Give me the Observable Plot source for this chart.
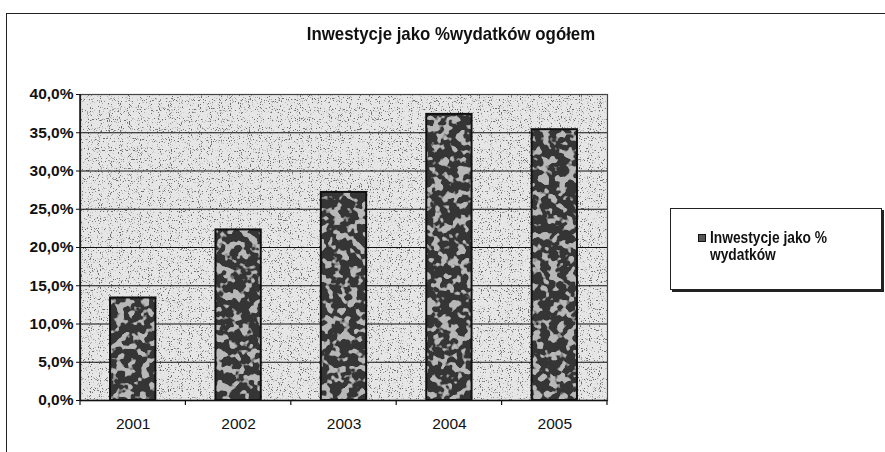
<!DOCTYPE html>
<html><head><meta charset="utf-8">
<script src="https://cdn.jsdelivr.net/npm/d3@7"></script>
<script src="https://cdn.jsdelivr.net/npm/@observablehq/plot@0.6"></script>
<style>
body{margin:0;background:#fff;}
#wrap{position:relative;width:885px;height:452px;overflow:hidden;font-family:"Liberation Sans",Arial,sans-serif;color:#111;}
#border{position:absolute;left:6px;top:13px;width:900px;height:460px;border-left:1.5px solid #222;border-top:1.5px solid #222;}
#title{position:absolute;left:151px;top:24px;width:600px;text-align:center;font-weight:bold;font-size:19px;line-height:19px;white-space:nowrap;transform:scaleX(0.887);transform-origin:50% 50%;}
#chart{position:absolute;left:0;top:0;}
#legend{position:absolute;left:670px;top:208px;width:210px;height:80px;border:1px solid #222;box-shadow:2px 2px 0 #222;background:#fff;}
#legend .sw{position:absolute;left:27px;top:25px;width:6px;height:6px;background:#555;border:1px solid #111;}
#legend .tx{position:absolute;left:39px;top:20px;font-weight:bold;font-size:16px;line-height:17px;white-space:nowrap;transform:scaleX(0.86);transform-origin:0 0;}
</style></head>
<body>
<div id="wrap">
  <div id="border"></div>
  <div id="chart"></div>
  <div id="title">Inwestycje jako %wydatków ogółem</div>
  <div id="legend"><div class="sw"></div><div class="tx">Inwestycje jako %<br>wydatków</div></div>
</div>
<script>
const years = ["2001", "2002", "2003", "2004", "2005"];
const values = [13.4, 22.3, 27.2, 37.4, 35.4];
const yTicks = [0, 5, 10, 15, 20, 25, 30, 35, 40];
const seriesName = "Inwestycje jako % wydatków";

const data = years.map((year, i) => ({year, value: values[i]}));
const fmt = d => d.toFixed(1).replace(".", ",") + "%";

const plot = Plot.plot({
  width: 885, height: 452,
  marginLeft: 80, marginRight: 278, marginTop: 94, marginBottom: 52,
  style: {fontFamily: '"Liberation Sans",Arial,sans-serif', fontSize: "15.5px", color: "#111", background: "transparent", overflow: "visible"},
  x: {domain: years, paddingInner: 0.57, paddingOuter: 0.285, round: false, label: null},
  y: {domain: [0, 40], label: null},
  marks: [
    Plot.frame({fill: "#e6e6e6", stroke: "none"}),
    Plot.ruleY(yTicks, {stroke: "#111", strokeWidth: 1.2}),
    Plot.barY(data, {x: "year", y: "value", fill: "#363636", title: d => seriesName}),
    Plot.barY(data, {x: "year", y: "value", fill: "none", stroke: "#111", strokeWidth: 2}),
    Plot.frame({stroke: "#444", strokeWidth: 1.2}),
    Plot.ruleY([0], {stroke: "#111", strokeWidth: 1.5}),
    Plot.axisY({ticks: yTicks, tickSize: 4, tickPadding: 3, tickFormat: fmt, fontWeight: "bold", fontSize: 15.5, label: null}),
    Plot.axisX({tickSize: 0, tickPadding: 17, fontSize: 15.5, label: null})
  ]
});
document.getElementById("chart").appendChild(plot);

// band-edge tick marks on the category axis, from the plot's x scale
const xs = plot.scale("x");
const ys = plot.scale("y");
const svg = d3.select(plot);
const y0 = ys.apply(0);
svg.append("g").selectAll("line")
  .data(d3.range(years.length + 1))
  .join("line")
  .attr("x1", i => xs.range[0] + i * xs.step)
  .attr("x2", i => xs.range[0] + i * xs.step)
  .attr("y1", y0).attr("y2", y0 + 5)
  .attr("stroke", "#111").attr("stroke-width", 1.2);
svg.append("line")
  .attr("x1", xs.range[0]).attr("x2", xs.range[0])
  .attr("y1", ys.apply(40)).attr("y2", y0)
  .attr("stroke", "#111").attr("stroke-width", 1.5);

// textures (speckled plot area, mottled bars)
const defs = svg.insert("defs", ":first-child");
defs.html(`
<filter id="speckle" x="0" y="0" width="1" height="1">
  <feTurbulence type="fractalNoise" baseFrequency="0.9" numOctaves="1" seed="4" result="n"/>
  <feColorMatrix in="n" type="matrix" values="0 0 0 0 0.15  0 0 0 0 0.15  0 0 0 0 0.15  10 0 0 0 -5.9" result="dots"/>
  <feComposite in="dots" in2="SourceGraphic" operator="in" result="d2"/>
  <feMerge><feMergeNode in="SourceGraphic"/><feMergeNode in="d2"/></feMerge>
</filter>
<filter id="camo" x="0" y="0" width="1" height="1">
  <feTurbulence type="fractalNoise" baseFrequency="0.12" numOctaves="2" seed="7" result="t"/>
  <feColorMatrix in="t" type="matrix" values="0 0 0 0 0.48  0 0 0 0 0.48  0 0 0 0 0.48  12 0 0 0 -6.2" result="p"/>
  <feComposite in="p" in2="SourceGraphic" operator="in" result="p2"/>
  <feMerge><feMergeNode in="SourceGraphic"/><feMergeNode in="p2"/></feMerge>
</filter>`);
svg.select('[aria-label="frame"]').attr("filter", "url(#speckle)");
svg.select('g[aria-label="bar"]').attr("filter", "url(#camo)");
</script>
</body></html>
